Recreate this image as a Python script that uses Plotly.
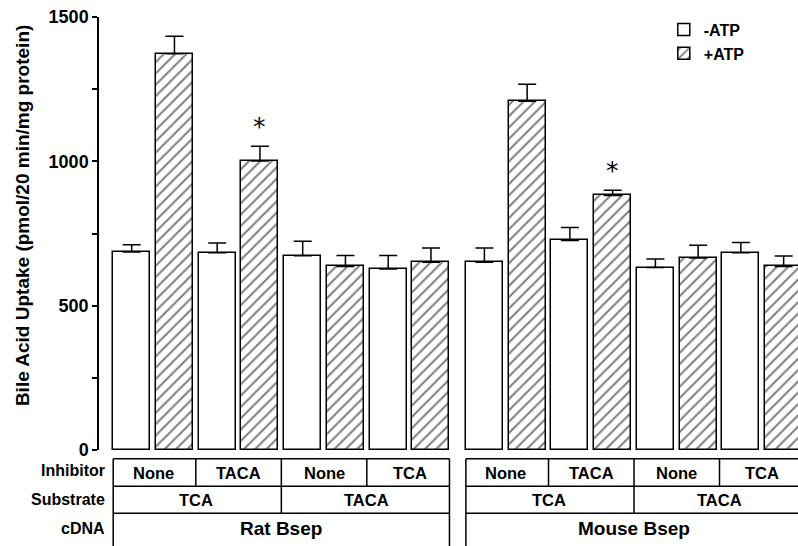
import plotly.graph_objects as go

# ---------------- data ----------------
cdna_groups = ["Rat Bsep", "Mouse Bsep"]
substrates = ["TCA", "TACA"]
inhibitors = ["None", "TACA", "None", "TCA"]

minus_atp_vals = [686, 683, 673, 627, 650, 726, 632, 683]
minus_atp_err = [25, 34, 50, 47, 50, 45, 30, 36]
plus_atp_vals = [1373, 1001, 636, 650, 1208, 882, 665, 636]
plus_atp_err = [60, 51, 38, 50, 59, 18, 44, 36]
significant = [False, True, False, False, False, True, False, False]

y_ticks = [0, 500, 1000, 1500]
y_title = "Bile Acid Uptake (pmol/20 min/mg protein)"

# ---------------- layout helpers ----------------
GROUP_SHIFT = 8.25
BAR_W = 0.866
FONT = "Liberation Sans"

minus_x, plus_x = [], []
for g in range(len(cdna_groups)):
    for c in range(len(inhibitors)):
        base = g * GROUP_SHIFT + c * 2
        minus_x.append(base)
        plus_x.append(base + 1)

fig = go.Figure()
fig.add_trace(go.Bar(
    x=minus_x, y=minus_atp_vals, width=BAR_W, name="-ATP",
    marker=dict(color="white", line=dict(color="black", width=1.5)),
    error_y=dict(type="data", symmetric=False, array=minus_atp_err,
                 arrayminus=[0] * len(minus_atp_err), color="black",
                 thickness=1.5, width=9),
))
fig.add_trace(go.Bar(
    x=plus_x, y=plus_atp_vals, width=BAR_W, name="+ATP",
    marker=dict(color="white", line=dict(color="black", width=1.5),
                pattern=dict(shape="/", fgcolor="black", bgcolor="white",
                             size=8, solidity=0.26)),
    error_y=dict(type="data", symmetric=False, array=plus_atp_err,
                 arrayminus=[0] * len(plus_atp_err), color="black",
                 thickness=1.5, width=9),
))

annotations = []
shapes = []

# asterisks
for i, sig in enumerate(significant):
    if sig:
        annotations.append(dict(x=plus_x[i], y=plus_atp_vals[i] + plus_atp_err[i] + 68,
                                xref="x", yref="y", text="*", showarrow=False,
                                font=dict(family="DejaVu Sans", size=25, color="black"),
                                yanchor="middle"))

# table rows (paper y)
row_top = [-0.020, -0.084, -0.146]
row_bot = [-0.084, -0.146, -0.30]
line = dict(color="black", width=1.5)

def hline(x0, x1, y):
    shapes.append(dict(type="line", xref="x", yref="paper", x0=x0, x1=x1, y0=y, y1=y, line=line))

def vline(x, y0, y1):
    shapes.append(dict(type="line", xref="x", yref="paper", x0=x, x1=x, y0=y0, y1=y1, line=line))

def label(x, y, text, size, xref="x", xanchor="center"):
    annotations.append(dict(x=x, y=y, xref=xref, yref="paper", text=text, showarrow=False,
                            xanchor=xanchor, yanchor="middle",
                            font=dict(family=FONT, size=size, color="black", weight="bold")))

row_text_y = [-0.052, -0.1155, -0.182]

half = BAR_W / 2
for g, name in enumerate(cdna_groups):
    left = g * GROUP_SHIFT - half
    right = g * GROUP_SHIFT + 7 + half
    for y in row_top:
        hline(left, right, y)
    vline(left, row_top[0], row_bot[2])
    vline(right, row_top[0], row_bot[2])
    for c in range(1, len(inhibitors)):
        xdiv = g * GROUP_SHIFT + c * 2 - 0.5
        vline(xdiv, row_top[0], row_bot[1] if c == 2 else row_bot[0])
    for c, lab in enumerate(inhibitors):
        label(g * GROUP_SHIFT + c * 2 + 0.5, row_text_y[0], lab, 16.5)
    for s, lab in enumerate(substrates):
        label(g * GROUP_SHIFT + s * 4 + 1.5, row_text_y[1], lab, 16.5)
    label(g * GROUP_SHIFT + 3.5, row_text_y[2], name, 19)

for lab, yy in zip(["Inhibitor", "Substrate", "cDNA"], [-0.0475, -0.1145, -0.182]):
    label(0.011, yy, lab, 16, xref="paper", xanchor="right")

# y axis title as rotated annotation (placed like the original, slightly above centre)
annotations.append(dict(x=-0.109, y=0.542, xref="paper", yref="paper", text=y_title,
                        textangle=-90, showarrow=False, xanchor="center", yanchor="middle",
                        font=dict(family=FONT, size=19, color="black", weight="bold")))

fig.update_layout(
    width=798, height=546,
    margin=dict(l=99, r=0, t=17, b=96, autoexpand=False),
    plot_bgcolor="white", paper_bgcolor="white",
    barmode="overlay", bargap=0,
    showlegend=True,
    legend=dict(x=0.808, y=1.01, xanchor="left", yanchor="top",
                bgcolor="rgba(0,0,0,0)", tracegroupgap=0,
                font=dict(family=FONT, size=16, color="black", weight="bold")),
    xaxis=dict(range=[-0.765, 15.586], showline=False, showticklabels=False,
               ticks="", showgrid=False, zeroline=False, automargin=False),
    yaxis=dict(range=[0, 1500], tickvals=y_ticks, ticktext=[str(v) for v in y_ticks],
               showline=True, linecolor="black", linewidth=1.5, automargin=False,
               ticks="outside", ticklen=5, tickwidth=1.5, tickcolor="black",
               minor=dict(dtick=250, ticks="outside", ticklen=5, tickwidth=1.5, tickcolor="black"),
               showgrid=False, zeroline=False,
               tickfont=dict(family=FONT, size=18, color="black", weight="bold")),
    annotations=annotations,
    shapes=shapes,
    font=dict(family=FONT, color="black"),
)

fig.write_html(
    "out.html",
    config={"displayModeBar": False},
    post_script="document.body.style.margin='0';document.body.style.overflow='hidden';",
)
